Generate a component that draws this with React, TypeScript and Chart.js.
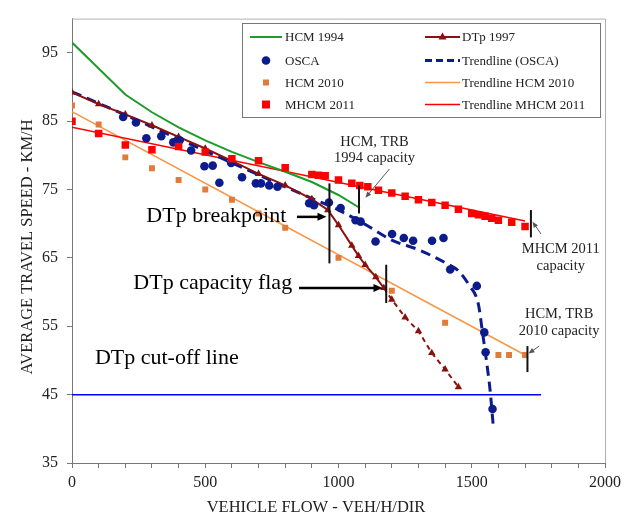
import React, { useEffect, useRef } from 'react';
import { Chart, registerables } from 'chart.js';

Chart.register(...registerables);

const FONT = '"Liberation Serif", "Times New Roman", serif';

// ---------- data ----------
const hcm1994Flow = [0, 200, 300, 400, 500, 600, 700, 800, 900, 1000, 1080];
const hcm1994Speed = [96.5, 88.9, 86.3, 84.1, 82.2, 80.5, 79.0, 77.6, 76.1, 74.2, 72.3];

const dtpFlow = [0, 100, 200, 300, 400, 500, 600, 700, 800, 900, 960, 1000, 1050, 1075, 1100, 1140, 1170];
const dtpSpeed = [89.2, 87.5, 86.0, 84.4, 82.7, 81.0, 79.2, 77.3, 75.6, 73.6, 72.0, 69.8, 66.8, 65.3, 64.0, 62.2, 60.6];
const dtpDashFlow = [1170, 1200, 1250, 1300, 1350, 1400, 1450];
const dtpDashSpeed = [60.6, 58.9, 56.3, 54.3, 51.1, 48.7, 46.1];

const oscaFlow = [192, 240, 279, 335, 380, 404, 447, 497, 528, 553, 597, 638, 690, 709, 740, 771, 890, 908, 964, 1008, 1064, 1083, 1139, 1201, 1245, 1280, 1351, 1394, 1419, 1519, 1547, 1552, 1578];
const oscaSpeed = [85.6, 84.8, 82.5, 82.8, 81.9, 82.2, 80.7, 78.4, 78.5, 76.0, 78.9, 76.8, 75.9, 75.9, 75.6, 75.4, 73.0, 72.7, 73.1, 72.3, 70.5, 70.3, 67.4, 68.5, 67.9, 67.5, 67.5, 67.9, 63.3, 60.9, 54.1, 51.2, 42.9];

const trendOscaFlow = [0, 200, 400, 600, 800, 900, 1000, 1100, 1200, 1300, 1400, 1450, 1490, 1525, 1540, 1555, 1569, 1581];
const trendOscaSpeed = [89.3, 85.9, 82.4, 78.9, 75.4, 73.7, 72.0, 69.9, 67.6, 66.2, 64.3, 63.1, 61.0, 58.2, 54.2, 50.0, 45.6, 40.3];

const hcm2010Flow = [0, 100, 200, 300, 400, 500, 600, 700, 800, 1000, 1200, 1400, 1600, 1640, 1700];
const hcm2010Speed = [87.3, 84.5, 79.7, 78.1, 76.4, 75.0, 73.5, 71.5, 69.4, 65.0, 60.2, 55.5, 50.8, 50.8, 50.8];
const trendHcm2010Flow = [0, 1700];
const trendHcm2010Speed = [86.4, 50.8];

const mhcmFlow = [0, 100, 200, 300, 400, 500, 600, 700, 800, 900, 925, 950, 1000, 1050, 1080, 1110, 1150, 1200, 1250, 1300, 1350, 1400, 1450, 1500, 1525, 1550, 1575, 1600, 1650, 1700];
const mhcmSpeed = [85.0, 83.2, 81.5, 80.8, 81.3, 80.5, 79.5, 79.2, 78.2, 77.2, 77.1, 77.0, 76.4, 75.9, 75.6, 75.4, 74.9, 74.5, 74.0, 73.5, 73.1, 72.7, 72.1, 71.5, 71.3, 71.1, 70.8, 70.5, 70.2, 69.6];
const trendMhcmFlow = [0, 1700];
const trendMhcmSpeed = [84.1, 70.4];

const cutoffFlow = [0, 1760];
const cutoffSpeed = [45, 45];

const xTickValues = Array.from({ length: 21 }, (_, i) => i * 100);
const yTickValues = [35, 45, 55, 65, 75, 85, 95];

// annotations (data units)
const markFlow = [966, 1179, 1077, 1722, 1709];
const markLow = [64.2, 58.4, 71.5, 68.0, 48.3];
const markHigh = [75.9, 64.0, 75.6, 72.0, 52.1];

const bigLabels = ['DTp breakpoint', 'DTp capacity flag', 'DTp cut-off line'];
const bigLabelFlow = [804, 826, 86];
const bigLabelAlign = ['right', 'right', 'left'];
const bigLabelSpeed = [70.2, 60.4, 49.5];

const boldArrowFrom = [844, 852];
const boldArrowTo = [955, 1165];
const boldArrowSpeed = [71.0, 60.6];

const noteLines = [['HCM, TRB', '1994 capacity'], ['MHCM 2011', 'capacity'], ['HCM, TRB', '2010 capacity']];
const noteFlow = [1135, 1834, 1828];
const noteSpeed1 = [81.4, 65.7, 56.2];
const noteSpeed2 = [79.0, 63.3, 53.7];
const pointerFromFlow = [1191, 1760, 1753];
const pointerFromSpeed = [78.0, 68.5, 52.1];
const pointerToFlow = [1101, 1728, 1713];
const pointerToSpeed = [73.8, 70.3, 51.0];

const xTitle = 'VEHICLE FLOW - VEH/H/DIR';
const yTitle = 'AVERAGE TRAVEL SPEED - KM/H';

const C = {
  green: '#1E9B2A',
  dtp: '#8B1010',
  osca: '#0D1C8C',
  hcm2010: '#E07B39',
  hcm2010Trend: '#F79646',
  red: '#FF0000',
  blue: '#0000FF',
};

const pts = (xs: number[], ys: number[]) => xs.map((x, i) => ({ x, y: ys[i] }));

function arrow(ctx: CanvasRenderingContext2D, x1: number, y1: number, x2: number, y2: number, color: string, width: number, headLen: number, headW: number) {
  const a = Math.atan2(y2 - y1, x2 - x1);
  ctx.save();
  ctx.strokeStyle = color;
  ctx.fillStyle = color;
  ctx.lineWidth = width;
  ctx.beginPath();
  ctx.moveTo(x1, y1);
  ctx.lineTo(x2 - headLen * 0.8 * Math.cos(a), y2 - headLen * 0.8 * Math.sin(a));
  ctx.stroke();
  const bx = x2 - headLen * Math.cos(a);
  const by = y2 - headLen * Math.sin(a);
  ctx.beginPath();
  ctx.moveTo(x2, y2);
  ctx.lineTo(bx + headW * Math.sin(a), by - headW * Math.cos(a));
  ctx.lineTo(bx - headW * Math.sin(a), by + headW * Math.cos(a));
  ctx.closePath();
  ctx.fill();
  ctx.restore();
}

const framePlugin = {
  id: 'frame',
  beforeDatasetsDraw(chart: any) {
    const { ctx, chartArea: a } = chart;
    ctx.save();
    ctx.strokeStyle = '#B0B0B0';
    ctx.lineWidth = 1;
    ctx.beginPath();
    ctx.moveTo(a.left, a.top + 0.5);
    ctx.lineTo(a.right + 0.5, a.top + 0.5);
    ctx.lineTo(a.right + 0.5, a.bottom);
    ctx.stroke();
    ctx.restore();
  },
};

const annotationPlugin = {
  id: 'annotations',
  afterDatasetsDraw(chart: any) {
    const { ctx } = chart;
    const xs = chart.scales.x;
    const ys = chart.scales.y;
    const px = (v: number) => xs.getPixelForValue(v);
    const py = (v: number) => ys.getPixelForValue(v);
    ctx.save();
    // capacity marks
    ctx.strokeStyle = '#111';
    ctx.lineWidth = 2;
    markFlow.forEach((f, i) => {
      ctx.beginPath();
      ctx.moveTo(px(f), py(markLow[i]));
      ctx.lineTo(px(f), py(markHigh[i]));
      ctx.stroke();
    });
    // bold arrows
    boldArrowFrom.forEach((f, i) => {
      arrow(ctx, px(f), py(boldArrowSpeed[i]), px(boldArrowTo[i]), py(boldArrowSpeed[i]), '#000', 2.5, 9, 4);
    });
    // big labels
    ctx.fillStyle = '#000';
    ctx.font = `22px ${FONT}`;
    ctx.textBaseline = 'alphabetic';
    bigLabels.forEach((t, i) => {
      ctx.textAlign = bigLabelAlign[i] as CanvasTextAlign;
      ctx.fillText(t, px(bigLabelFlow[i]), py(bigLabelSpeed[i]));
    });
    // notes
    ctx.font = `14.5px ${FONT}`;
    ctx.textAlign = 'center';
    ctx.fillStyle = '#222';
    noteLines.forEach((lines, i) => {
      ctx.fillText(lines[0], px(noteFlow[i]), py(noteSpeed1[i]));
      ctx.fillText(lines[1], px(noteFlow[i]), py(noteSpeed2[i]));
      arrow(ctx, px(pointerFromFlow[i]), py(pointerFromSpeed[i]), px(pointerToFlow[i]), py(pointerToSpeed[i]), '#555', 1, 6, 2.5);
    });
    // axis titles
    ctx.fillStyle = '#222';
    ctx.font = `16.5px ${FONT}`;
    ctx.textAlign = 'center';
    ctx.textBaseline = 'middle';
    ctx.fillText(xTitle, 316, 508);
    ctx.save();
    ctx.translate(28, 247);
    ctx.rotate(-Math.PI / 2);
    ctx.fillText(yTitle, 0, 0);
    ctx.restore();
    ctx.restore();
  },
  afterDraw(chart: any) {
    const { ctx } = chart;
    ctx.save();
    // legend box
    const L = 242, T = 23, R = 600, B = 117;
    ctx.fillStyle = '#fff';
    ctx.fillRect(L, T, R - L, B - T);
    ctx.strokeStyle = '#777';
    ctx.lineWidth = 1;
    ctx.strokeRect(L + 0.5, T + 0.5, R - L, B - T);
    const rows = [37, 60.5, 82.5, 104.5];
    const items = [
      { col: 0, row: 0, text: 'HCM 1994', kind: 'line', color: C.green, width: 2 },
      { col: 0, row: 1, text: 'OSCA', kind: 'circle', color: C.osca },
      { col: 0, row: 2, text: 'HCM 2010', kind: 'square', color: C.hcm2010, size: 6 },
      { col: 0, row: 3, text: 'MHCM 2011', kind: 'square', color: C.red, size: 8 },
      { col: 1, row: 0, text: 'DTp 1997', kind: 'lineTri', color: C.dtp, width: 2 },
      { col: 1, row: 1, text: 'Trendline (OSCA)', kind: 'dash', color: C.osca, width: 3 },
      { col: 1, row: 2, text: 'Trendline HCM 2010', kind: 'line', color: C.hcm2010Trend, width: 1.5 },
      { col: 1, row: 3, text: 'Trendline MHCM 2011', kind: 'line', color: C.red, width: 1.5 },
    ];
    const cols = [{ x1: 250, x2: 282, tx: 285 }, { x1: 425, x2: 460, tx: 462 }];
    ctx.font = `13px ${FONT}`;
    ctx.textBaseline = 'middle';
    ctx.textAlign = 'left';
    items.forEach((it: any) => {
      const c = cols[it.col];
      const y = rows[it.row];
      const cx = (c.x1 + c.x2) / 2;
      ctx.strokeStyle = it.color;
      ctx.fillStyle = it.color;
      if (it.kind === 'line' || it.kind === 'lineTri' || it.kind === 'dash') {
        ctx.lineWidth = it.width;
        ctx.setLineDash(it.kind === 'dash' ? [7, 4] : []);
        ctx.beginPath();
        ctx.moveTo(c.x1, y);
        ctx.lineTo(c.x2, y);
        ctx.stroke();
        ctx.setLineDash([]);
        if (it.kind === 'lineTri') {
          ctx.beginPath();
          ctx.moveTo(cx, y - 4.5);
          ctx.lineTo(cx + 4, y + 2.5);
          ctx.lineTo(cx - 4, y + 2.5);
          ctx.closePath();
          ctx.fill();
        }
      } else if (it.kind === 'circle') {
        ctx.beginPath();
        ctx.arc(cx, y, 4.3, 0, Math.PI * 2);
        ctx.fill();
      } else {
        ctx.fillRect(cx - it.size / 2, y - it.size / 2, it.size, it.size);
      }
      ctx.fillStyle = '#222';
      ctx.fillText(it.text, c.tx, y + 1);
    });
    ctx.restore();
  },
};

export default function App() {
  const ref = useRef<HTMLCanvasElement>(null);
  useEffect(() => {
    if (!ref.current) return;
    const lineDs = (label: string, xs: number[], ys: number[], color: string, width: number, extra: any = {}) => ({
      label, data: pts(xs, ys), showLine: true, borderColor: color, backgroundColor: color,
      borderWidth: width, pointRadius: 0, tension: 0, ...extra,
    });
    const chart = new Chart(ref.current, {
      type: 'scatter',
      data: {
        datasets: [
          { label: 'MHCM 2011', data: pts(mhcmFlow, mhcmSpeed), pointStyle: 'rect', pointRadius: 5.3, pointBackgroundColor: C.red, pointBorderColor: C.red, pointBorderWidth: 0, showLine: false },
          { label: 'OSCA', data: pts(oscaFlow, oscaSpeed), pointStyle: 'circle', pointRadius: 4.3, pointBackgroundColor: C.osca, pointBorderColor: C.osca, pointBorderWidth: 0, showLine: false },
          { label: 'HCM 2010', data: pts(hcm2010Flow, hcm2010Speed), pointStyle: 'rect', pointRadius: 4.2, pointBackgroundColor: C.hcm2010, pointBorderColor: C.hcm2010, pointBorderWidth: 0, showLine: false },
          lineDs('DTp 1997', dtpFlow, dtpSpeed, C.dtp, 2, { pointStyle: 'triangle', pointRadius: 4.3, pointBackgroundColor: C.dtp, pointBorderWidth: 0 }),
          lineDs('DTp 1997 (beyond capacity)', dtpDashFlow, dtpDashSpeed, C.dtp, 2, { borderDash: [5, 4], pointStyle: 'triangle', pointRadius: (c: any) => (c.dataIndex === 0 ? 0 : 4.3), pointBackgroundColor: C.dtp, pointBorderWidth: 0 }),
          lineDs('Trendline (OSCA)', trendOscaFlow, trendOscaSpeed, C.osca, 3, { borderDash: [10, 6], cubicInterpolationMode: 'monotone' }),
          lineDs('HCM 1994', hcm1994Flow, hcm1994Speed, C.green, 2),
          lineDs('Trendline MHCM 2011', trendMhcmFlow, trendMhcmSpeed, C.red, 1.5),
          lineDs('Trendline HCM 2010', trendHcm2010Flow, trendHcm2010Speed, C.hcm2010Trend, 1.5),
          lineDs('DTp cut-off line', cutoffFlow, cutoffSpeed, C.blue, 1.5),
        ],
      },
      options: {
        responsive: false,
        animation: false,
        events: [],
        layout: { padding: { top: 15, right: 20, left: 0, bottom: 0 } },
        plugins: { legend: { display: false }, tooltip: { enabled: false } },
        scales: {
          x: {
            type: 'linear', min: 0, max: 2000,
            afterBuildTicks: (s: any) => { s.ticks = xTickValues.map((v) => ({ value: v })); },
            afterFit: (s: any) => { s.height = 56; },
            ticks: {
              autoSkip: false, maxRotation: 0, padding: 5, color: '#222',
              font: { family: FONT, size: 16 },
              callback: (v: any) => (Number(v) % 500 === 0 ? String(v) : ''),
            },
            grid: { drawOnChartArea: false, tickLength: 5, color: '#777' },
            border: { color: '#777' },
          },
          y: {
            type: 'linear', min: 35, max: 100,
            afterBuildTicks: (s: any) => { s.ticks = yTickValues.map((v) => ({ value: v })); },
            afterFit: (s: any) => { s.width = 72; },
            ticks: { padding: 9, color: '#222', font: { family: FONT, size: 16 } },
            grid: { drawOnChartArea: false, tickLength: 5, color: '#777' },
            border: { color: '#777' },
          },
        },
      },
      plugins: [framePlugin, annotationPlugin],
    } as any);
    return () => chart.destroy();
  }, []);
  return (
    <div style={{ position: 'fixed', left: 0, top: 0, width: 626, height: 519, background: '#fff' }}>
      <canvas ref={ref} width={626} height={519} style={{ display: 'block' }} />
    </div>
  );
}
